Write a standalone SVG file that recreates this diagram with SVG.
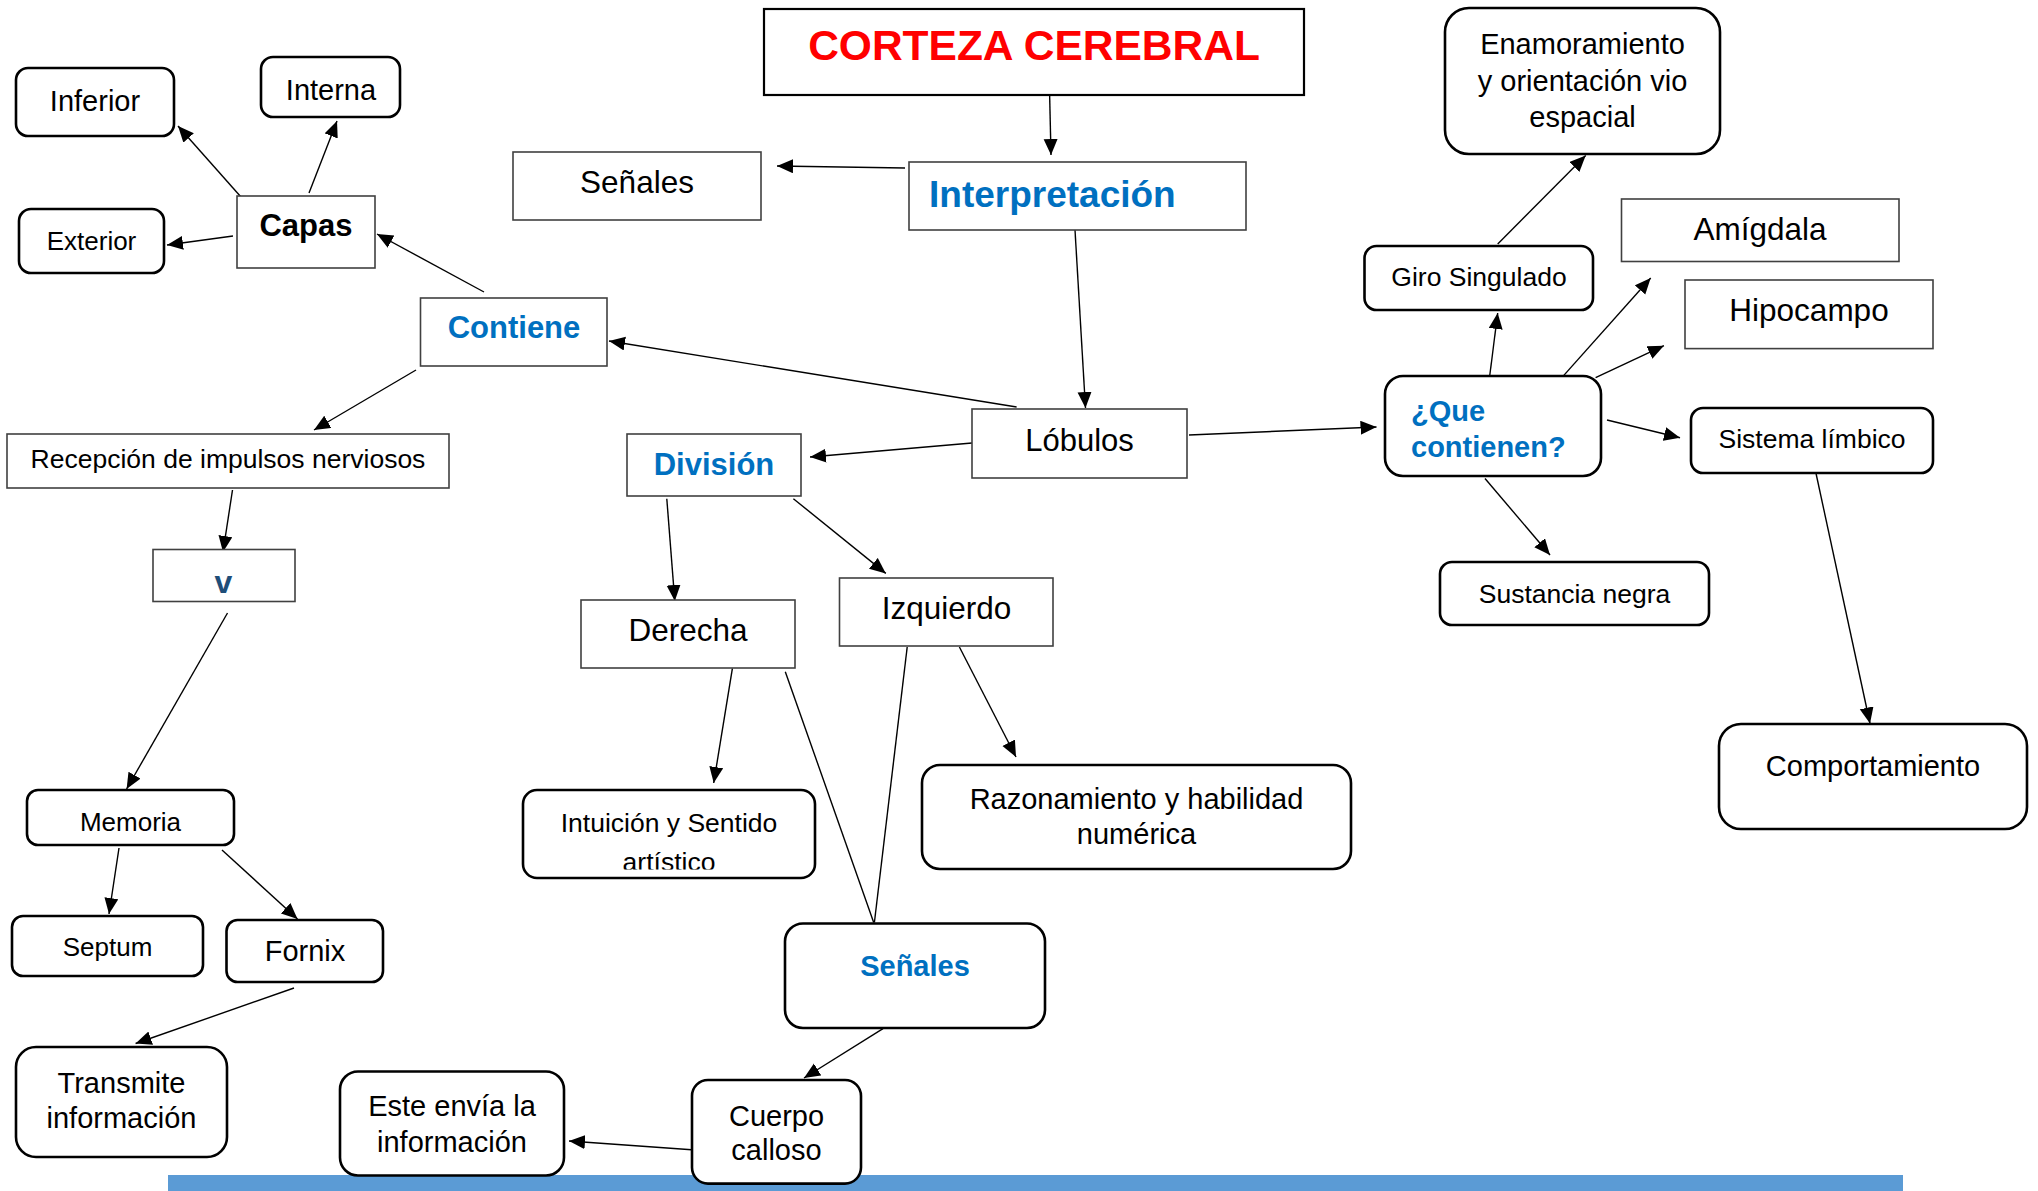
<svg xmlns="http://www.w3.org/2000/svg" width="2038" height="1191" viewBox="0 0 2038 1191">
<style>
text{font-family:"Liberation Sans",Arial,sans-serif;fill:#000;text-anchor:middle}
.r{fill:#fff;stroke:#404040;stroke-width:1.6}
.o{fill:#fff;stroke:#000;stroke-width:2.6}
.b{font-weight:bold;fill:#0070C0}
.c line{stroke:#000;stroke-width:1.4;marker-end:url(#ah)}
.c line.n{marker-end:none}
</style>
<defs>
<marker id="ah" markerUnits="userSpaceOnUse" markerWidth="17" markerHeight="15" refX="16" refY="7" orient="auto">
<path d="M0,0 L16,7 L0,14 z" fill="#000"/>
</marker>
<clipPath id="clipInt"><rect x="523" y="790" width="292" height="79.5"/></clipPath>
</defs>
<rect width="2038" height="1191" fill="#fff"/>
<rect id="bar" x="168" y="1175" width="1735" height="16" fill="#5B9BD5"/>

<g id="connectors" class="c">
<line x1="1049" y1="67" x2="1051" y2="155"/>
<line x1="905" y1="168" x2="777" y2="166"/>
<line x1="1075" y1="230" x2="1085.5" y2="408"/>
<line x1="1016.6" y1="407" x2="609" y2="341"/>
<line x1="972" y1="443" x2="810" y2="457"/>
<line x1="1189" y1="435" x2="1376.5" y2="427"/>
<line x1="484" y1="292" x2="377" y2="234"/>
<line x1="416" y1="370" x2="314" y2="430"/>
<line x1="241" y1="197" x2="178" y2="126"/>
<line x1="309" y1="193" x2="337" y2="121"/>
<line x1="233" y1="236" x2="167" y2="245"/>
<line x1="232.5" y1="490" x2="223" y2="552"/>
<line x1="227.5" y1="613" x2="126.6" y2="789"/>
<line x1="119" y1="848" x2="109" y2="914"/>
<line x1="222" y1="850" x2="297.5" y2="919"/>
<line x1="294" y1="988" x2="135.6" y2="1043.5"/>
<line x1="666.8" y1="498.7" x2="674.8" y2="601"/>
<line x1="793.4" y1="498.7" x2="885.8" y2="573.4"/>
<line x1="732.4" y1="668.3" x2="713.7" y2="783"/>
<line x1="959.4" y1="647" x2="1016" y2="757"/>
<line class="n" x1="785.3" y1="671.7" x2="873.7" y2="922.5"/>
<line class="n" x1="907.2" y1="647" x2="874.4" y2="922.5"/>
<line x1="883" y1="1028.7" x2="804" y2="1078"/>
<line x1="695" y1="1150" x2="569" y2="1141"/>
<line x1="1489.7" y1="376" x2="1497.7" y2="313"/>
<line x1="1497.7" y1="244" x2="1585.7" y2="155.6"/>
<line x1="1563.6" y1="375.6" x2="1650.7" y2="278"/>
<line x1="1595.6" y1="377.7" x2="1663.9" y2="345.7"/>
<line x1="1607" y1="420" x2="1680" y2="437.8"/>
<line x1="1485" y1="478.5" x2="1550" y2="555"/>
<line x1="1815.5" y1="471" x2="1870" y2="723.5"/>
</g>

<g id="corteza"><rect x="764" y="9" width="540" height="86" fill="#fff" stroke="#000" stroke-width="2.2"/><text x="1034" y="60" font-size="42.5" font-weight="bold" style="fill:#FF0000">CORTEZA CEREBRAL</text></g>
<g id="senales-top"><rect class="r" x="513" y="152" width="248" height="68"/><text x="637" y="193" font-size="31.5">Señales</text></g>
<g id="interpretacion"><rect class="r" x="909" y="162" width="337" height="68"/><text class="b" x="929" y="207" font-size="37" style="text-anchor:start">Interpretación</text></g>
<g id="contiene"><rect class="r" x="420.5" y="298" width="186.5" height="68"/><text class="b" x="514" y="338" font-size="31">Contiene</text></g>
<g id="capas"><rect class="r" x="237" y="196" width="138" height="72"/><text x="306" y="236" font-size="31" font-weight="bold">Capas</text></g>
<g id="inferior"><rect class="o" x="16" y="68" width="158" height="68" rx="12"/><text x="95" y="111" font-size="29">Inferior</text></g>
<g id="interna"><rect class="o" x="261" y="57" width="139" height="60" rx="12"/><text x="331" y="99.5" font-size="29">Interna</text></g>
<g id="exterior"><rect class="o" x="19" y="209" width="145" height="64" rx="12"/><text x="91.5" y="250" font-size="26">Exterior</text></g>
<g id="recepcion"><rect class="r" x="7" y="434" width="442" height="54"/><text x="228" y="468" font-size="26.5">Recepción de impulsos nerviosos</text></g>
<g id="v"><rect class="r" x="153" y="549.5" width="142" height="52"/><text x="223.5" y="592.5" font-size="32" font-weight="bold" style="fill:#1F4E79">v</text></g>
<g id="memoria"><rect class="o" x="27" y="790" width="207" height="55" rx="11"/><text x="130.5" y="830.6" font-size="26">Memoria</text></g>
<g id="septum"><rect class="o" x="12" y="916" width="191" height="60" rx="11"/><text x="107.5" y="956" font-size="26">Septum</text></g>
<g id="fornix"><rect class="o" x="226.5" y="920" width="156.5" height="62" rx="11"/><text x="305" y="961" font-size="29">Fornix</text></g>
<g id="transmite"><rect class="o" x="16" y="1047" width="211" height="110" rx="20"/><text x="121.5" y="1092.6" font-size="29">Transmite</text><text x="121.5" y="1128" font-size="29">información</text></g>
<g id="lobulos"><rect class="r" x="972" y="409" width="215" height="69"/><text x="1079.5" y="451" font-size="31">Lóbulos</text></g>
<g id="division"><rect class="r" x="627" y="434" width="174" height="62"/><text class="b" x="714" y="475" font-size="31">División</text></g>
<g id="derecha"><rect class="r" x="581" y="600" width="214" height="68"/><text x="688" y="641" font-size="31.5">Derecha</text></g>
<g id="izquierdo"><rect class="r" x="839.5" y="578" width="213.5" height="68"/><text x="946.5" y="619" font-size="31.5">Izquierdo</text></g>
<g id="intuicion"><rect class="o" x="523" y="790" width="292" height="88" rx="14"/><g clip-path="url(#clipInt)"><text x="669" y="832" font-size="26.5">Intuición y Sentido</text><text x="669" y="871" font-size="26.5">artístico</text></g></g>
<g id="razonamiento"><rect class="o" x="922" y="765" width="429" height="104" rx="18"/><text x="1136.5" y="808.5" font-size="29">Razonamiento y habilidad</text><text x="1136.5" y="844" font-size="29">numérica</text></g>
<g id="senales-bottom"><rect class="o" x="785" y="923.5" width="260" height="104.5" rx="18"/><text class="b" x="915" y="975.6" font-size="29">Señales</text></g>
<g id="cuerpo"><rect class="o" x="692" y="1080" width="169" height="103.6" rx="16"/><text x="776.5" y="1125.6" font-size="29">Cuerpo</text><text x="776.5" y="1160" font-size="29">calloso</text></g>
<g id="este"><rect class="o" x="340" y="1071.5" width="224" height="104" rx="18"/><text x="452" y="1115.7" font-size="29">Este envía la</text><text x="452" y="1151.6" font-size="29">información</text></g>
<g id="enamoramiento"><rect class="o" x="1445" y="8" width="275" height="146" rx="24"/><text x="1582.5" y="54" font-size="29">Enamoramiento</text><text x="1582.5" y="90.5" font-size="29">y orientación vio</text><text x="1582.5" y="126.6" font-size="29">espacial</text></g>
<g id="giro"><rect class="o" x="1364.5" y="246" width="228.5" height="64" rx="12"/><text x="1479" y="285.5" font-size="26.5">Giro Singulado</text></g>
<g id="amigdala"><rect class="r" x="1621.5" y="199" width="277.5" height="62.5"/><text x="1760" y="240" font-size="31.5">Amígdala</text></g>
<g id="hipocampo"><rect class="r" x="1685" y="280" width="248" height="68.6"/><text x="1809" y="321" font-size="31.5">Hipocampo</text></g>
<g id="que-contienen"><rect class="o" x="1385" y="376" width="216" height="100" rx="18"/><text class="b" x="1411" y="421" font-size="29" style="text-anchor:start">¿Que</text><text class="b" x="1411" y="456.5" font-size="29" style="text-anchor:start">contienen?</text></g>
<g id="sistema"><rect class="o" x="1691" y="408" width="242" height="65" rx="12"/><text x="1812" y="448" font-size="26.5">Sistema límbico</text></g>
<g id="sustancia"><rect class="o" x="1440" y="562" width="269" height="63" rx="12"/><text x="1574.5" y="603" font-size="26.5">Sustancia negra</text></g>
<g id="comportamiento"><rect class="o" x="1719" y="724" width="308" height="105" rx="22"/><text x="1873" y="775.7" font-size="29">Comportamiento</text></g>
</svg>
